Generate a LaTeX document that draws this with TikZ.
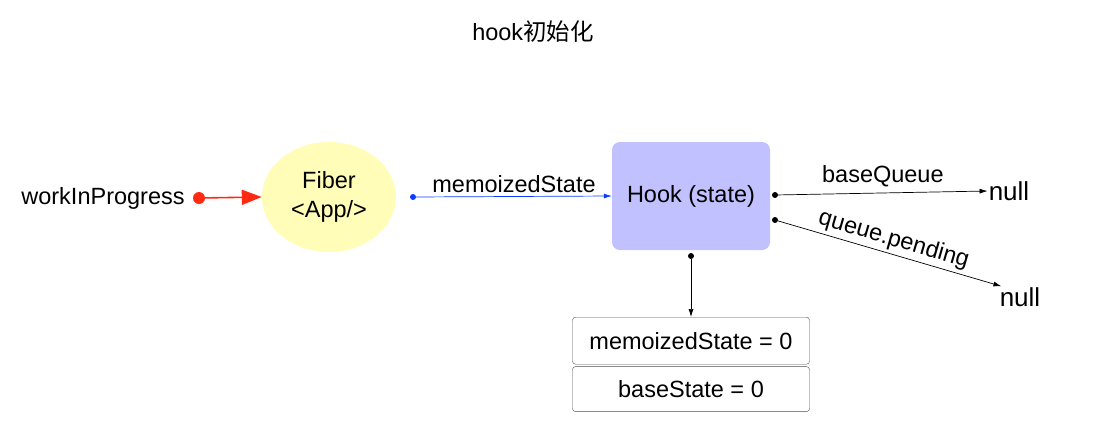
\documentclass[tikz,border=0pt]{standalone}
\usepackage{fontspec}
\setmainfont{Liberation Sans}
\newfontfamily\cjkfont{Noto Sans CJK SC}
\usetikzlibrary{arrows.meta}
\usetikzlibrary{shapes}
\usetikzlibrary{positioning}

\definecolor{fiberyellow}{HTML}{FFFDB8}
\definecolor{hookblue}{HTML}{C2C1FF}
\definecolor{wipred}{HTML}{FF2A12}
\definecolor{ptrblue}{HTML}{0A3CFF}

\begin{document}
\begin{tikzpicture}[x=1pt, y=-1pt, font=\fontsize{23.5}{29}\selectfont,
                    fiber/.style = {ellipse, fill=fiberyellow, minimum width=134pt,
                                    minimum height=110pt, inner sep=0pt, align=center},
                    hook/.style = {rounded corners=8pt, fill=hookblue,
                                   minimum width=158pt, minimum height=108pt},
                    field/.style = {draw=black!70, rounded corners=3pt,
                                    minimum width=237pt, minimum height=47pt},
                    ptr/.style = {-{Latex[length=8pt,width=5pt]}, line width=0.7pt},
                    dot/.style = {circle, fill, inner sep=0pt, minimum size=6pt}]
  \useasboundingbox (0,0) rectangle (1093,440);
  \node (title) at (533,32) {hook{\cjkfont 初始化}};
  \node (wip) at (103,198) {workInProgress};
  \node [fiber] (fiber) at (329,197) {Fiber\\<App/>};
  \node [hook] (hook) at (691,196) {Hook (state)};
  \node [font=\fontsize{26}{29}\selectfont, inner sep=1pt] (null1) at (1009,191) {null};
  \node [font=\fontsize{26}{29}\selectfont, inner sep=1pt] (null2) at (1020,297) {null};
  \node [field, anchor=north] (ms) at (691,317) {memoizedState = 0};
  \node [field, below=2pt of ms, minimum height=45pt] (bs) {baseState = 0};

  % pointers
  \node [dot, wipred, minimum size=12pt] (wipdot) at (199,198) {};
  \node [dot, ptrblue] (memodot) at (413,197) {};
  \node [dot] (bqdot) at (775,195) {};
  \node [dot] (qpdot) at (775,220) {};
  \node [dot] (msdot) at (691,256) {};

  \draw [wipred, line width=1.6pt, -{Triangle[length=20pt,width=15pt]}] (wipdot) -- (fiber.west);
  \draw [ptr, ptrblue] (memodot) -- (hook.west)
    node [midway, above, black] {memoizedState};
  \draw [ptr] (bqdot) -- (null1.west)
    node [midway, above, yshift=2pt] {baseQueue};
  \draw [ptr] (qpdot) -- (null2.150)
    node [midway, above, sloped, inner sep=1pt, yshift=2pt] {queue.pending};
  \draw [ptr] (msdot) -- (ms.north);
\end{tikzpicture}
\end{document}
